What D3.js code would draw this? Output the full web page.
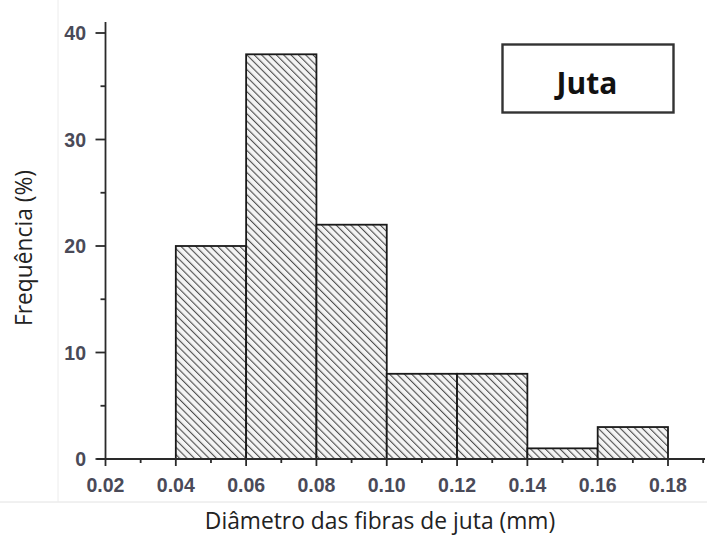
<!DOCTYPE html>
<html><head><meta charset="utf-8">
<script src="https://cdn.jsdelivr.net/npm/d3@7"></script>
<style>body{margin:0;background:#fff;} svg{display:block;}</style>
</head><body>
<svg id="c" width="707" height="537"></svg>
<script>
const binStarts = [0.04, 0.06, 0.08, 0.10, 0.12, 0.14, 0.16];
const binEnds   = [0.06, 0.08, 0.10, 0.12, 0.14, 0.16, 0.18];
const frequencies = [20, 38, 22, 8, 8, 1, 3];
const xTicks = [0.02, 0.04, 0.06, 0.08, 0.10, 0.12, 0.14, 0.16, 0.18];
const xMinorTicks = [0.03, 0.05, 0.07, 0.09, 0.11, 0.13, 0.15, 0.17, 0.19];
const yTicks = [0, 10, 20, 30, 40];
const yMinorTicks = [5, 15, 25, 35];
const legendLabel = "Juta";

const svg = d3.select("#c");
const x = d3.scaleLinear().domain([0.02, 0.18]).range([105.5, 668]);
const y = d3.scaleLinear().domain([0, 40]).range([459, 33]);

const defs = svg.append("defs");
const P = 5.2;
const pat = defs.append("pattern").attr("id","hatch").attr("patternUnits","userSpaceOnUse")
  .attr("width",P).attr("height",P).attr("patternTransform","rotate(-45)");
pat.append("rect").attr("width",P).attr("height",P).attr("fill","#f4f4f4");
pat.append("line").attr("x1",0).attr("y1",0).attr("x2",0).attr("y2",P)
  .attr("stroke","#4e4e4e").attr("stroke-width",2.2);

// faint screenshot frame lines
svg.append("line").attr("x1",0).attr("x2",707).attr("y1",502).attr("y2",502)
  .attr("stroke","#e2e2e2").attr("stroke-width",1);
svg.append("line").attr("x1",58).attr("x2",58).attr("y1",0).attr("y2",502)
  .attr("stroke","#ececec").attr("stroke-width",1);

// bars
svg.selectAll("rect.bar").data(frequencies).enter().append("rect")
  .attr("class","bar")
  .attr("x",(d,i)=>x(binStarts[i]))
  .attr("width",(d,i)=>x(binEnds[i])-x(binStarts[i]))
  .attr("y",d=>y(d))
  .attr("height",d=>y(0)-y(d))
  .attr("fill","url(#hatch)")
  .attr("stroke","#1a1a1a").attr("stroke-width",1.8);

const axisColor = "#2a2a2a";
// x axis
svg.append("line").attr("x1",97).attr("x2",705).attr("y1",y(0)).attr("y2",y(0))
  .attr("stroke",axisColor).attr("stroke-width",1.8);
svg.selectAll("line.xt").data(xTicks).enter().append("line")
  .attr("x1",d=>x(d)).attr("x2",d=>x(d)).attr("y1",y(0)).attr("y2",y(0)+7)
  .attr("stroke",axisColor).attr("stroke-width",1.8);
svg.selectAll("line.xm").data(xMinorTicks).enter().append("line")
  .attr("x1",d=>x(d)).attr("x2",d=>x(d)).attr("y1",y(0)).attr("y2",y(0)+4)
  .attr("stroke",axisColor).attr("stroke-width",1.8);
svg.selectAll("text.xl").data(xTicks).enter().append("text")
  .attr("x",d=>x(d)).attr("y",492).attr("text-anchor","middle")
  .attr("font-family","Liberation Sans, Arial, sans-serif").attr("font-size",19.5)
  .attr("font-weight","bold").attr("fill","#4a4a58").text(d=>d.toFixed(2));

// y axis
svg.append("line").attr("x1",x(0.02)).attr("x2",x(0.02)).attr("y1",22).attr("y2",y(0))
  .attr("stroke",axisColor).attr("stroke-width",1.8);
svg.selectAll("line.yt").data(yTicks).enter().append("line")
  .attr("x1",x(0.02)-10).attr("x2",x(0.02)).attr("y1",d=>y(d)).attr("y2",d=>y(d))
  .attr("stroke",axisColor).attr("stroke-width",1.8);
svg.selectAll("line.ym").data(yMinorTicks).enter().append("line")
  .attr("x1",x(0.02)-5).attr("x2",x(0.02)).attr("y1",d=>y(d)).attr("y2",d=>y(d))
  .attr("stroke",axisColor).attr("stroke-width",1.8);
svg.selectAll("text.yl").data(yTicks).enter().append("text")
  .attr("x",86).attr("y",d=>y(d)+7).attr("text-anchor","end")
  .attr("font-family","Liberation Sans, Arial, sans-serif").attr("font-size",19.5)
  .attr("font-weight","bold").attr("fill","#4a4a58").text(d=>d);

// titles
svg.append("text").attr("x",380).attr("y",529).attr("text-anchor","middle")
  .attr("font-family","Open Sans, Noto Sans, sans-serif").attr("font-size",22.8)
  .attr("fill","#222").text("Diâmetro das fibras de juta (mm)");
svg.append("text").attr("transform","translate(32,248) rotate(-90)").attr("text-anchor","middle")
  .attr("font-family","Open Sans, Noto Sans, sans-serif").attr("font-size",22.8)
  .attr("fill","#222").text("Frequência (%)");

// legend box
svg.append("rect").attr("x",502.5).attr("y",44.5).attr("width",171).attr("height",68)
  .attr("fill","#fff").attr("stroke","#333").attr("stroke-width",2.4);
svg.append("text").attr("x",587).attr("y",94).attr("text-anchor","middle")
  .attr("font-family","Open Sans, Noto Sans, sans-serif").attr("font-weight","bold").attr("font-size",30)
  .attr("fill","#111").text(legendLabel);
</script>
</body></html>
